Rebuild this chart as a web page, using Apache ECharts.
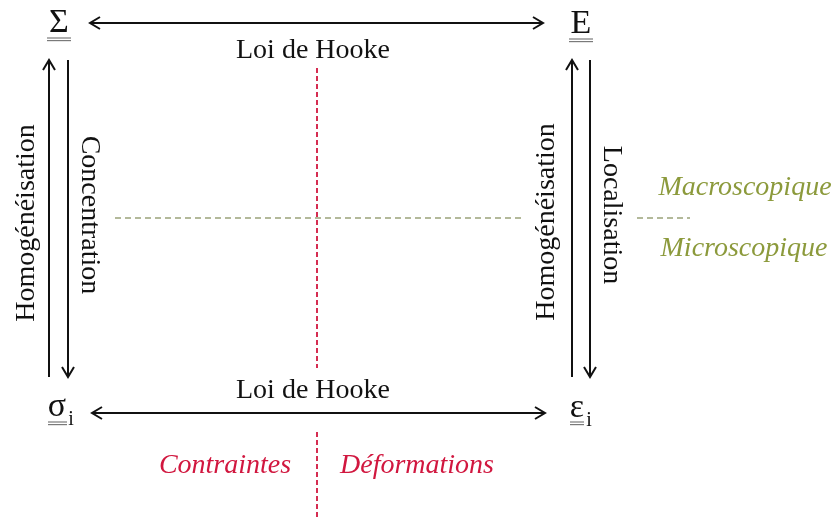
<!DOCTYPE html>
<html>
<head>
<meta charset="utf-8">
<script src="https://cdn.jsdelivr.net/npm/echarts@6/dist/echarts.min.js"></script>
<style>
  html, body { margin: 0; padding: 0; background: #fff; }
  #main { width: 838px; height: 517px; }
</style>
</head>
<body>
<div id="main"></div>
<script>
// diagram drawn in a hidden 838 x 517 value grid (y axis inverted)

// arrows: x1, y1, x2, y2, head at start (1/0), head at end (1/0)
const arrowRows = [
  [90, 23, 543, 23, 1, 1],    // Loi de Hooke (haut)
  [92, 413, 545, 413, 1, 1],  // Loi de Hooke (bas)
  [49, 377, 49, 60, 0, 1],    // Homogénéisation gauche
  [68, 60, 68, 377, 0, 1],    // Concentration
  [572, 377, 572, 60, 0, 1],  // Homogénéisation droite
  [590, 60, 590, 377, 0, 1],  // Localisation
];

// dashed separators: x1, y1, x2, y2
const redDashes = [
  [317, 68, 317, 368],
  [317, 432, 317, 517],
];
const greenDashes = [
  [115, 218, 525, 218],
  [637, 218, 690, 218],
];

// tensor symbols
const symbolText = ['Σ', 'E', 'σ', 'ε'];
const symbolX = [59, 581, 57, 577];
const symbolY = [23, 24, 407, 408];
const subText = ['', '', 'i', 'i'];
const subX = [0, 0, 71, 589];
const subY = [0, 0, 420, 421];
// double underline: x1, x2, y
const underlineRows = [
  [47, 71, 38],
  [569, 593, 39],
  [48, 67, 422],
  [570, 584, 422],
];

// black labels
const blackText = ['Loi de Hooke', 'Loi de Hooke', 'Homogénéisation', 'Concentration', 'Homogénéisation', 'Localisation'];
const blackX = [313, 313, 27, 89, 547, 611];
const blackY = [51, 391, 223, 215, 222, 215];
const blackAngle = [0, 0, 90, -90, 90, -90];

// green labels
const greenText = ['Macroscopique', 'Microscopique'];
const greenX = [745, 744];
const greenY = [188, 249];

// red labels
const redText = ['Contraintes', 'Déformations'];
const redX = [225, 417];
const redY = [466, 466];

const INK = '#111';
const RED = '#d1173f';
const GREEN = '#8c9a3c';
const SERIF = '"Liberation Serif", "DejaVu Serif", serif';

function headPoints(tip, from) {
  const dx = tip[0] - from[0];
  const dy = tip[1] - from[1];
  const len = Math.sqrt(dx * dx + dy * dy) || 1;
  const ux = dx / len, uy = dy / len;
  const back = 10, half = 6;
  return [
    [tip[0] - ux * back - uy * half, tip[1] - uy * back + ux * half],
    [tip[0], tip[1]],
    [tip[0] - ux * back + uy * half, tip[1] - uy * back - ux * half],
  ];
}

function renderArrow(params, api) {
  const p1 = api.coord([api.value(0), api.value(1)]);
  const p2 = api.coord([api.value(2), api.value(3)]);
  const style = { stroke: INK, lineWidth: 2, fill: null };
  const children = [{ type: 'line', shape: { x1: p1[0], y1: p1[1], x2: p2[0], y2: p2[1] }, style: style }];
  if (api.value(4)) {
    children.push({ type: 'polyline', shape: { points: headPoints(p1, p2) }, style: style });
  }
  if (api.value(5)) {
    children.push({ type: 'polyline', shape: { points: headPoints(p2, p1) }, style: style });
  }
  return { type: 'group', children: children };
}

function dashRenderer(color, dash, width) {
  return function (params, api) {
    const p1 = api.coord([api.value(0), api.value(1)]);
    const p2 = api.coord([api.value(2), api.value(3)]);
    return {
      type: 'line',
      shape: { x1: p1[0], y1: p1[1], x2: p2[0], y2: p2[1] },
      style: { stroke: color, lineWidth: width, lineDash: dash },
    };
  };
}

function textRenderer(texts, color, font) {
  return function (params, api) {
    const p = api.coord([api.value(0), api.value(1)]);
    return {
      type: 'text',
      x: p[0],
      y: p[1],
      rotation: api.value(2) * Math.PI / 180,
      style: {
        text: texts[api.value(3)],
        fill: color,
        font: font,
        align: 'center',
        verticalAlign: 'middle',
      },
    };
  };
}

function renderUnderline(params, api) {
  const a = api.coord([api.value(0), api.value(2)]);
  const b = api.coord([api.value(1), api.value(2)]);
  const style = { stroke: '#7a7a7a', lineWidth: 1.2 };
  return {
    type: 'group',
    children: [
      { type: 'line', shape: { x1: a[0], y1: a[1], x2: b[0], y2: b[1] }, style: style },
      { type: 'line', shape: { x1: a[0], y1: a[1] + 2.6, x2: b[0], y2: b[1] + 2.6 }, style: style },
    ],
  };
}

const blackData = blackX.map((x, i) => [x, blackY[i], blackAngle[i], i]);
const greenData = greenX.map((x, i) => [x, greenY[i], 0, i]);
const redData = redX.map((x, i) => [x, redY[i], 0, i]);
const symbolData = symbolX.map((x, i) => [x, symbolY[i], 0, i]);
const subData = subX.map((x, i) => [x, subY[i], 0, i]).filter((d, i) => subText[i] !== '');

const option = {
  animation: false,
  backgroundColor: '#fff',
  grid: { left: 0, right: 0, top: 0, bottom: 0 },
  xAxis: { type: 'value', min: 0, max: 838, show: false },
  yAxis: { type: 'value', min: 0, max: 517, inverse: true, show: false },
  series: [
    { type: 'custom', clip: false, renderItem: dashRenderer('#9aa27a', [6, 4], 1.3), data: greenDashes },
    { type: 'custom', clip: false, renderItem: dashRenderer(RED, [5, 3], 1.8), data: redDashes },
    { type: 'custom', clip: false, renderItem: renderArrow, data: arrowRows },
    { type: 'custom', clip: false, renderItem: renderUnderline, data: underlineRows },
    { type: 'custom', clip: false, renderItem: textRenderer(symbolText, INK, '34px ' + SERIF), data: symbolData },
    { type: 'custom', clip: false, renderItem: textRenderer(subText, INK, '20px ' + SERIF), data: subData },
    { type: 'custom', clip: false, renderItem: textRenderer(blackText, INK, '28px ' + SERIF), data: blackData },
    { type: 'custom', clip: false, renderItem: textRenderer(greenText, GREEN, 'italic 28px ' + SERIF), data: greenData },
    { type: 'custom', clip: false, renderItem: textRenderer(redText, RED, 'italic 28px ' + SERIF), data: redData },
  ],
};

const myChart = echarts.init(document.getElementById('main'));
myChart.setOption(option);
</script>
</body>
</html>
